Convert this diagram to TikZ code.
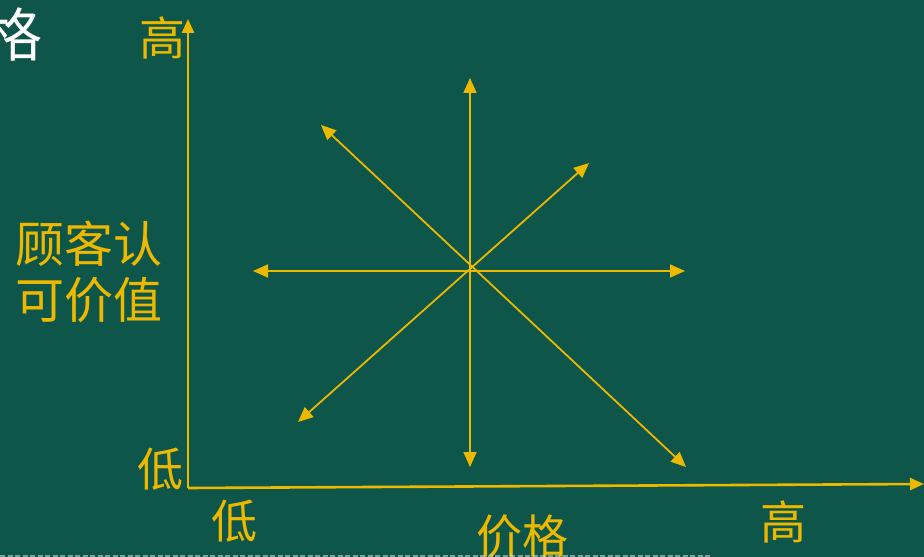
\documentclass[tikz,border=0pt]{standalone}
\usepackage{fontspec}
\setmainfont{Noto Sans CJK SC}
\usetikzlibrary{arrows.meta}
\definecolor{bg}{HTML}{0E5649}
\definecolor{gold}{HTML}{EDB800}
\tikzset{
  axis/.style={draw=gold,line width=2.6bp,-{Triangle[length=14bp,width=12bp]}},
  ray/.style={draw=gold,line width=1.8bp,{Triangle[length=15bp,width=13bp]}-{Triangle[length=15bp,width=13bp]}},
  lab/.style={text=gold,font=\fontsize{46bp}{52bp}\selectfont,inner sep=0pt},
}
\begin{document}
\begin{tikzpicture}[x=1bp,y=-1bp]
\fill[bg] (0,0) rectangle (924,557);
\useasboundingbox (0,0) rectangle (924,557);
% axes
\coordinate (O) at (188,488);
\coordinate (Ytop) at (188,19);
\coordinate (Xend) at (924,484);
\draw[axis] (O) -- (Ytop);
\draw[axis] (O) -- (Xend);
% star
\coordinate (N) at (470,78);
\coordinate (S) at (470,467);
\coordinate (W) at (253,271);
\coordinate (E) at (685,271);
\coordinate (NW) at (321,125);
\coordinate (SE) at (686,467);
\coordinate (NE) at (589,163);
\coordinate (SW) at (298,422);
\draw[ray] (S) -- (N);
\draw[ray] (W) -- (E);
\draw[ray] (NW) -- (SE);
\draw[ray] (SW) -- (NE);
% labels
\node[lab] (yhi) at (162,38) {高};
\node[lab] (ylo) at (160,469) {低};
\node[lab] (xlo) at (234,521) {低};
\node[lab] (xname) at (522,536) {价格};
\node[lab] (xhi) at (783,522) {高};
\node[lab,align=center,font=\fontsize{49bp}{56bp}\selectfont] (yname) at (89,272) {顾客认\\可价值};
\node[text=white,font=\fontsize{58bp}{60bp}\selectfont,inner sep=0pt] (title) at (14,34) {格};
% faint dashes at bottom edge
\coordinate (d1) at (0,556);
\coordinate (d2) at (712,556);
\draw[white,opacity=0.45,line width=1.5bp,dash pattern=on 5bp off 2.5bp] (d1) -- (d2);
\end{tikzpicture}
\end{document}
